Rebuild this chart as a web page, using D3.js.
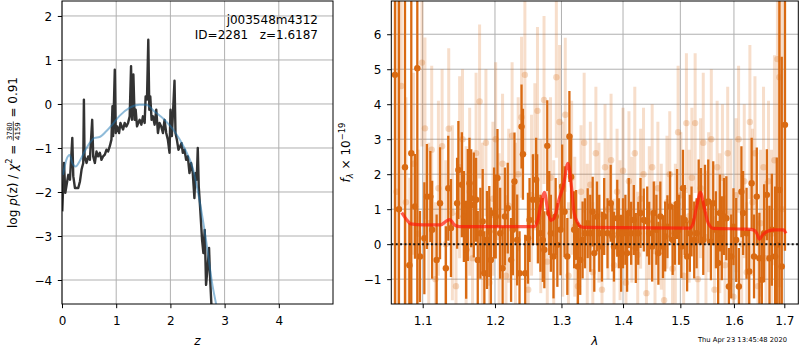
<!DOCTYPE html>
<html>
<head>
<meta charset="utf-8">
<script src="https://cdn.jsdelivr.net/npm/d3@7"></script>
<style>
  body { margin: 0; background: #fff; }
  svg text { font-family: "DejaVu Sans", sans-serif; fill: #000; }
</style>
</head>
<body>
<svg id="fig" width="800" height="350"></svg>
<script>
// ---------- data: redshift probability ----------
var pzZ = [0.005, 0.037, 0.061, 0.086, 0.116, 0.147, 0.178, 0.190, 0.208, 0.239, 0.300, 0.331, 0.361, 0.392,
  0.404, 0.416, 0.453, 0.484, 0.514, 0.557, 0.576, 0.606, 0.637, 0.667, 0.698, 0.729, 0.759, 0.790, 0.821,
  0.851, 0.882, 0.912, 0.931, 0.943, 0.974, 0.992, 1.017, 1.053, 1.078, 1.102, 1.127, 1.157, 1.188, 1.219,
  1.249, 1.274, 1.292, 1.317, 1.341, 1.359, 1.384, 1.408, 1.433, 1.464, 1.494, 1.525, 1.543, 1.568, 1.592,
  1.611, 1.629, 1.653, 1.678, 1.709, 1.739, 1.770, 1.800, 1.831, 1.862, 1.892, 1.923, 1.953, 1.984, 2.002,
  2.027, 2.076, 2.094, 2.119, 2.149, 2.180, 2.205, 2.229, 2.260, 2.290, 2.321, 2.352, 2.382, 2.413, 2.443,
  2.462, 2.486, 2.505, 2.523, 2.547, 2.584, 2.609, 2.633, 2.658, 2.688, 2.713, 2.731, 2.770];
var pzLog = [-2.44, -1.34, -2.02, -1.83, -1.61, -1.72, -1.04, -0.77, -1.64, -1.91, -1.91, -1.76, -1.49, -1.34,
  0.10, -1.19, -1.34, -1.19, -1.27, -0.36, -1.19, -1.34, -1.08, -1.19, -1.11, -1.27, -1.19, -1.15, -1.04,
  -1.08, -0.96, -0.81, -0.05, -0.73, 0.78, -0.66, -0.51, -0.66, -0.43, -0.51, -0.58, -0.43, -0.51, -0.43,
  -0.28, 0.86, -0.36, 0.67, -0.36, -0.13, -0.51, -0.43, -0.36, -0.47, -0.28, -0.43, 0.17, 0.10, 1.46,
  -0.13, 0.17, -0.36, -0.28, -0.47, -0.13, -0.66, -0.43, -0.51, -0.66, -0.36, -0.66, -0.81, -1.11, -0.13,
  -0.73, 0.53, -0.66, -0.81, -1.04, -0.96, -0.89, -1.11, -1.04, -1.27, -1.19, -1.57, -1.34, -1.57, -2.14,
  -1.57, -1.72, -1.00, -1.87, -2.33, -3.08, -3.39, -2.86, -4.11, -3.69, -3.27, -3.92, -4.90];

// smooth curve
var pzSmoothZ = [0.018, 0.080, 0.141, 0.190, 0.252, 0.325, 0.417, 0.509, 0.601, 0.693, 0.816, 0.939, 1.061,
  1.245, 1.429, 1.552, 1.706, 1.890, 2.074, 2.258, 2.411, 2.534, 2.656, 2.779, 2.853];
var pzSmoothLog = [-1.61, -1.27, -1.16, -1.34, -1.42, -1.30, -1.08, -0.89, -0.77, -0.75, -0.62, -0.45, -0.27,
  -0.09, -0.02, -0.02, -0.17, -0.36, -0.62, -1.00, -1.45, -2.17, -3.08, -4.14, -4.60];

var zTicks = [0, 1, 2, 3, 4];
var lpTicks = [-4, -3, -2, -1, 0, 1, 2];

// ---------- data: spectrum [lambda (um), flux (1e-19), err] ----------
var specDark = [
  [1.0639, 4.84, 9.0], [1.0690, 1.0, 7.0], [1.0768, 2.2, 5.6], [1.0825, -0.6, 1.2], [1.0850, 2.6, 4.8],
  [1.0898, 1.08, 1.5], [1.0929, 5.03, 9.0], [1.0964, -0.35, 1.3], [1.1022, 0.17, 1.6], [1.1056, 1.36, 1.5],
  [1.1102, 1.36, 1.3], [1.1126, 0.41, 1.4], [1.1186, -0.45, 1.3], [1.1232, 1.17, 1.6], [1.1311, -0.69, 1.2],
  [1.1344, 1.60, 1.5], [1.1381, 0.46, 1.4], [1.1465, 1.17, 1.3], [1.1483, 2.12, 1.4], [1.1531, 1.70, 1.5],
  [1.1559, 0.79, 1.3], [1.1591, -0.16, 1.4], [1.1614, 1.12, 1.6], [1.1637, 1.74, 1.3], [1.1661, 1.31, 1.4],
  [1.1698, 1.12, 1.5], [1.1731, 1.27, 1.2], [1.1754, -0.45, 1.4], [1.1791, 0.31, 1.3], [1.1824, 0.65, 1.5],
  [1.1848, -0.83, 1.2], [1.1885, 0.12, 1.4], [1.1918, 0.36, 1.3], [1.1941, -0.45, 1.5], [1.1987, 0.89, 1.3],
  [1.2011, 0.79, 1.2], [1.2036, 1.89, 1.4], [1.2075, 0.31, 1.3], [1.2111, -0.69, 1.2], [1.2145, 0.79, 1.4],
  [1.2186, 1.03, 1.3], [1.2235, -0.45, 1.2], [1.2261, 0.41, 1.3], [1.2285, 1.79, 1.4], [1.2325, 0.12, 1.3],
  [1.2360, -0.83, 1.2], [1.2390, 3.36, 1.2], [1.2411, 2.57, 1.3], [1.2445, -0.83, 1.1], [1.2486, 0.17, 1.3],
  [1.2510, 0.69, 1.2], [1.2561, 1.27, 1.3], [1.2610, 1.84, 1.2], [1.2625, 1.27, 1.3], [1.2636, 0.65, 1.2],
  [1.2675, 0.31, 1.1], [1.2711, 0.12, 1.2], [1.2735, -0.16, 1.1], [1.2780, 2.81, 1.3], [1.2810, 0.89, 1.2],
  [1.2835, 0.31, 1.1], [1.2876, -0.35, 1.2], [1.2910, 0.79, 1.1], [1.2936, -0.02, 1.2], [1.2985, 0.41, 1.3],
  [1.3011, 1.65, 1.2], [1.3049, 0.93, 1.3], [1.3092, -0.35, 1.1], [1.3125, 3.08, 1.3], [1.3151, 1.93, 1.2],
  [1.3200, 0.41, 1.1], [1.3232, 0.55, 1.0], [1.3259, -0.64, 1.1], [1.3297, -0.45, 1.0], [1.3335, 0.12, 1.1],
  [1.3373, 0.31, 1.0], [1.3417, 0.60, 1.0], [1.3459, 0.31, 1.1], [1.3498, 0.93, 1.0], [1.3524, -0.26, 1.1],
  [1.3568, 0.79, 1.0], [1.3605, 0.31, 1.1], [1.3649, -0.07, 1.0], [1.3686, 0.79, 1.1], [1.3741, 0.31, 1.0],
  [1.3794, 1.17, 1.1], [1.3822, 0.22, 1.0], [1.3848, -0.07, 1.0], [1.3903, 0.74, 1.1], [1.3929, 0.31, 1.0],
  [1.3968, -0.26, 1.1], [1.4000, 0.31, 1.0], [1.4040, 0.41, 1.0], [1.4069, -0.26, 1.1], [1.4097, 0.89, 1.0],
  [1.4138, 0.31, 0.9], [1.4183, 0.69, 1.0], [1.4217, -0.11, 1.0], [1.4259, 0.31, 0.9], [1.4298, 0.89, 1.0],
  [1.4355, 0.69, 0.9], [1.4414, 0.65, 1.0], [1.4448, 0.31, 0.9], [1.4500, -0.07, 1.0], [1.4528, 0.89, 0.9],
  [1.4574, 0.41, 1.0], [1.4609, -0.26, 0.9], [1.4643, 0.79, 1.0], [1.4690, -0.07, 0.9], [1.4729, 0.22, 1.0],
  [1.4769, 0.50, 0.9], [1.4816, 1.08, 1.0], [1.4862, 0.12, 1.0], [1.4902, 0.31, 0.9], [1.4941, 1.15, 1.0],
  [1.4976, 0.41, 1.0], [1.5019, -0.07, 0.9], [1.5048, 1.60, 1.1], [1.5080, 0.69, 1.0], [1.5123, -0.35, 1.0],
  [1.5173, 0.31, 1.1], [1.5204, 0.65, 1.0], [1.5253, 0.12, 1.1], [1.5297, 0.31, 1.0], [1.5335, 1.22, 1.2],
  [1.5377, 1.08, 1.1], [1.5420, 0.12, 1.0], [1.5452, 1.17, 1.1], [1.5513, 1.22, 1.2], [1.5563, 0.07, 1.1],
  [1.5606, 1.17, 1.2], [1.5656, 0.41, 1.1], [1.5699, -0.54, 1.2], [1.5731, 0.89, 1.1], [1.5768, 0.17, 1.2],
  [1.5810, 0.79, 1.1], [1.5855, 0.74, 1.2], [1.5903, -1.21, 1.1], [1.5948, -0.35, 1.2], [1.5991, 0.50, 1.1],
  [1.6044, 0.12, 1.2], [1.6096, -1.21, 1.1], [1.6145, 1.50, 1.3], [1.6177, 0.89, 1.2], [1.6245, 0.31, 1.3],
  [1.6297, -0.78, 1.2], [1.6345, 1.74, 1.3], [1.6392, -0.35, 1.2], [1.6446, 1.36, 1.4], [1.6498, -0.40, 1.3],
  [1.6546, -1.02, 1.3], [1.6592, 0.31, 1.4], [1.6647, 1.41, 1.3], [1.6699, -0.40, 1.5], [1.6747, 0.41, 1.6],
  [1.6813, -0.35, 2.0], [1.6847, -0.02, 2.5], [1.6900, 1.55, 6.0], [1.6948, -0.64, 6.0], [1.7014, 3.41, 3.6]
];

var specLight = [
  [1.066, 1.5, 7.0], [1.072, 4.52, 3.5], [1.078, 1.2, 3.0], [1.083, -0.6, 2.5], [1.088, 2.3, 2.6],
  [1.094, 0.3, 2.4], [1.099, 5.19, 2.4], [1.103, 3.31, 2.6], [1.108, 0.6, 2.3], [1.112, 2.7, 2.4],
  [1.117, -1.0, 2.2], [1.121, 1.6, 2.5], [1.126, 2.8, 2.2], [1.131, 0.0, 2.4], [1.135, 3.30, 2.3],
  [1.140, 0.9, 2.5], [1.145, -1.2, 2.1], [1.150, 2.2, 2.6], [1.154, 3.0, 2.0], [1.159, 0.5, 2.3],
  [1.164, 1.5, 2.4], [1.168, -0.4, 2.2], [1.173, 2.6, 2.3], [1.178, 4.08, 2.2], [1.182, 0.4, 2.5],
  [1.187, 2.9, 2.1], [1.192, -1.1, 2.4], [1.197, 1.3, 2.2], [1.201, 3.0, 2.2], [1.206, 0.2, 2.4],
  [1.211, 2.3, 2.0], [1.216, -0.9, 2.3], [1.220, 1.1, 2.2], [1.225, 3.1, 2.1], [1.230, 0.5, 2.4],
  [1.234, 2.0, 2.2], [1.239, 3.63, 2.3], [1.244, 4.84, 2.3], [1.249, -1.3, 2.1], [1.254, 1.4, 2.3],
  [1.259, 2.5, 2.1], [1.263, 3.81, 2.4], [1.268, 0.8, 2.2], [1.273, 4.12, 2.4], [1.278, -0.5, 2.0],
  [1.283, 1.9, 2.3], [1.288, 0.3, 2.1], [1.292, 4.77, 2.3], [1.297, 3.49, 2.2], [1.302, 1.0, 2.5],
  [1.306, 3.7, 2.2], [1.311, -0.9, 2.1], [1.316, 1.9, 2.2], [1.321, 0.5, 2.0], [1.326, -1.2, 2.2],
  [1.331, 1.5, 1.9], [1.336, 2.9, 2.0], [1.341, 0.2, 2.1], [1.346, 1.7, 1.8], [1.350, -0.8, 2.0],
  [1.355, 2.6, 1.9], [1.360, 0.9, 2.0], [1.365, -1.3, 1.9], [1.370, 2.2, 1.8], [1.375, 1.0, 2.0],
  [1.380, 2.4, 1.9], [1.385, -0.6, 1.9], [1.390, 1.5, 1.8], [1.395, 0.4, 2.0], [1.400, 2.1, 1.8],
  [1.405, -1.1, 1.9], [1.410, 1.8, 2.0], [1.415, 0.7, 1.8], [1.420, 2.6, 1.9], [1.425, -0.3, 1.8],
  [1.430, 1.3, 2.0], [1.435, 2.0, 1.9], [1.440, -1.4, 1.8], [1.445, 0.9, 1.9], [1.450, 2.2, 1.8],
  [1.455, -0.2, 2.0], [1.460, 1.6, 1.9], [1.466, 0.5, 1.8], [1.471, -1.6, 2.0], [1.476, 1.2, 1.9],
  [1.481, 2.0, 1.8], [1.486, -0.7, 1.9], [1.491, 0.3, 2.0], [1.496, 3.2, 1.9], [1.501, 1.4, 1.8],
  [1.506, -0.9, 2.0], [1.511, 3.46, 2.0], [1.516, 0.8, 1.9], [1.521, 1.9, 2.0], [1.527, 3.46, 2.0],
  [1.532, -1.0, 1.9], [1.537, 1.6, 2.0], [1.542, 2.9, 2.0], [1.547, 0.2, 1.9], [1.552, 1.2, 2.0],
  [1.557, 3.0, 2.0], [1.563, -1.3, 2.1], [1.568, 2.2, 1.9], [1.573, 0.6, 2.0], [1.578, 1.9, 2.1],
  [1.583, -0.6, 2.0], [1.588, 2.6, 1.9], [1.594, 0.9, 2.1], [1.599, -1.5, 2.0], [1.604, 1.4, 2.2],
  [1.609, 3.0, 2.1], [1.615, 0.0, 2.0], [1.620, 1.8, 2.2], [1.625, -0.8, 2.0], [1.631, 3.49, 2.2],
  [1.636, 1.2, 2.1], [1.641, 2.6, 2.2], [1.647, -1.2, 2.0], [1.652, 0.6, 2.1], [1.658, 2.2, 2.3],
  [1.663, -0.4, 2.2], [1.668, 1.8, 2.3], [1.674, 0.3, 2.4], [1.680, 2.4, 3.0], [1.686, 5.29, 5.0],
  [1.690, 4.77, 6.0], [1.695, 1.0, 8.0]
];

// best-fit model
var modelLam = [1.0725, 1.0790, 1.0842, 1.1009, 1.1242, 1.1311, 1.1367, 1.1428, 1.1497, 1.1800, 1.2585,
  1.2636, 1.2686, 1.2735, 1.2786, 1.2835, 1.2885, 1.2960, 1.3028, 1.3102, 1.3157, 1.3200, 1.3254, 1.3308,
  1.3362, 1.5173, 1.5234, 1.5297, 1.5372, 1.5433, 1.5513, 1.5606, 1.6245, 1.6378, 1.6446, 1.6498, 1.6566,
  1.6647, 1.6781, 1.6982, 1.7034];
var modelFlux = [0.90, 0.70, 0.58, 0.55, 0.55, 0.65, 0.70, 0.55, 0.50, 0.50, 0.50,
  0.70, 1.17, 1.48, 0.98, 0.68, 0.74, 1.27, 1.65, 2.31, 1.65, 0.89, 0.62, 0.50,
  0.48, 0.46, 0.60, 1.08, 1.48, 1.08, 0.60, 0.45, 0.43, 0.41, 0.31, 0.14, 0.27,
  0.36, 0.41, 0.41, 0.31];

var lamTicks = [1.1, 1.2, 1.3, 1.4, 1.5, 1.6, 1.7];
var fluxTicks = [-1, 0, 1, 2, 3, 4, 5, 6];

// ---------- drawing ----------
var svg = d3.select('#fig');
var fmt = d3.format('');
var gridColor = '#b0b0b0';
var specColor = '#d96a12';
var FS = 12;

function drawFrame(x, y, xt, yt, name) {
    var x0 = x.range()[0], x1 = x.range()[1];
    var y0 = y.range()[0], y1 = y.range()[1];
    var g = svg.append('g');

    // grid
    g.selectAll('.vg').data(xt).enter().append('line')
        .attr('x1', d => x(d)).attr('x2', d => x(d))
        .attr('y1', y0).attr('y2', y1)
        .attr('stroke', gridColor).attr('stroke-width', 1);
    g.selectAll('.hg').data(yt).enter().append('line')
        .attr('x1', x0).attr('x2', x1)
        .attr('y1', d => y(d)).attr('y2', d => y(d))
        .attr('stroke', gridColor).attr('stroke-width', 1);

    // clip for the marks
    svg.append('clipPath').attr('id', name)
        .append('rect').attr('x', x0).attr('y', y1).attr('width', x1 - x0).attr('height', y0 - y1);
    return svg.append('g').attr('clip-path', 'url(#' + name + ')');
}

function drawAxes(x, y, xt, yt, xfmt) {
    var x0 = x.range()[0], x1 = x.range()[1];
    var y0 = y.range()[0], y1 = y.range()[1];
    var xAxis = svg.append('g').attr('transform', 'translate(0,' + y0 + ')')
        .call(d3.axisBottom(x).tickValues(xt).tickFormat(xfmt).tickSize(4.2).tickPadding(8.5));
    var yAxis = svg.append('g').attr('transform', 'translate(' + x0 + ',0)')
        .call(d3.axisLeft(y).tickValues(yt).tickFormat(fmt).tickSize(4.2).tickPadding(5.6));
    [xAxis, yAxis].forEach(function (a) {
        a.select('.domain').remove();
        a.selectAll('text').attr('font-size', FS).attr('font-family', '"DejaVu Sans", sans-serif').attr('fill', '#000');
        a.selectAll('.tick line').attr('stroke', '#000');
    });
    yAxis.selectAll('text').attr('dy', '0.36em');
    svg.append('rect').attr('x', x0).attr('y', y1).attr('width', x1 - x0).attr('height', y0 - y1)
        .attr('fill', 'none').attr('stroke', '#000').attr('stroke-width', 1);
}

// ---- left panel: p(z) ----
var xz = d3.scaleLinear().domain([0, 5]).range([62, 333]);
var ylp = d3.scaleLinear().domain([-4.545, 2.34]).range([304, 1]);
var gl = drawFrame(xz, ylp, zTicks, lpTicks, 'clipL');

var pzLine = d3.line().x(d => xz(d[0])).y(d => ylp(d[1]));
gl.append('path')
    .datum(pzZ.map((z, i) => [z, pzLog[i]]))
    .attr('d', pzLine)
    .attr('fill', 'none').attr('stroke', '#333')
    .attr('stroke-width', 2.4).attr('stroke-linejoin', 'round');
gl.append('path')
    .datum(pzSmoothZ.map((z, i) => [z, pzSmoothLog[i]]))
    .attr('d', d3.line().curve(d3.curveMonotoneX).x(d => xz(d[0])).y(d => ylp(d[1])))
    .attr('fill', 'none').attr('stroke', '#1f77b4').attr('stroke-opacity', 0.5)
    .attr('stroke-width', 2);
drawAxes(xz, ylp, zTicks, lpTicks, fmt);

svg.append('text').attr('x', 318).attr('y', 24).attr('text-anchor', 'end')
    .attr('font-size', FS).text('j003548m4312');
svg.append('text').attr('x', 318).attr('y', 38.5).attr('text-anchor', 'end')
    .attr('font-size', FS).attr('xml:space', 'preserve').text('ID=2281   z=1.6187');

svg.append('text').attr('x', 197.5).attr('y', 345).attr('text-anchor', 'middle')
    .attr('font-size', FS).attr('font-style', 'italic').text('z');

// left y label with fraction
var lab = svg.append('g');
var t1 = lab.append('text').attr('font-size', FS).attr('xml:space', 'preserve');
t1.append('tspan').text('log ');
t1.append('tspan').attr('font-style', 'italic').text('p');
t1.append('tspan').text('(z) / ');
t1.append('tspan').attr('font-style', 'italic').text('χ');
t1.append('tspan').attr('font-size', 8.4).attr('dy', -5).text('2');
t1.append('tspan').attr('font-size', FS).attr('dy', 5).text(' = ');
var w1 = t1.node().getComputedTextLength();
var num = lab.append('text').attr('font-size', 7).attr('text-anchor', 'middle').text('3780');
var den = lab.append('text').attr('font-size', 7).attr('text-anchor', 'middle').text('4159');
var wf = Math.max(num.node().getComputedTextLength(), den.node().getComputedTextLength()) + 1.5;
num.attr('x', w1 + wf / 2).attr('y', -5);
den.attr('x', w1 + wf / 2).attr('y', 3);
lab.append('line').attr('x1', w1).attr('x2', w1 + wf).attr('y1', -3.7).attr('y2', -3.7)
    .attr('stroke', '#000').attr('stroke-width', 0.7);
var t2 = lab.append('text').attr('font-size', FS).attr('xml:space', 'preserve')
    .attr('x', w1 + wf).text(' = 0.91');
var wTot = w1 + wf + t2.node().getComputedTextLength();
lab.attr('transform', 'translate(17,' + (152.5 + wTot / 2) + ') rotate(-90)');

// ---- right panel: spectrum ----
var xl = d3.scaleLog().domain([1.0592, 1.7289]).range([391.3, 798.3]);
var yf = d3.scaleLinear().domain([-1.71, 6.95]).range([304, 1]);
var gr = drawFrame(xl, yf, lamTicks, fluxTicks, 'clipR');

// faint points, each mark transparent so overlaps build up
var gLight = gr.append('g');
gLight.selectAll('line').data(specLight).enter().append('line')
    .attr('x1', d => xl(d[0])).attr('x2', d => xl(d[0]))
    .attr('y1', d => yf(d[1] - d[2])).attr('y2', d => yf(d[1] + d[2]))
    .attr('stroke', specColor).attr('stroke-opacity', 0.22).attr('stroke-width', 3);
gLight.selectAll('circle').data(specLight).enter().append('circle')
    .attr('cx', d => xl(d[0])).attr('cy', d => yf(d[1]))
    .attr('r', 3.2).attr('fill', specColor).attr('fill-opacity', 0.25);

// solid points
var gDark = gr.append('g');
gDark.selectAll('line').data(specDark).enter().append('line')
    .attr('x1', d => xl(d[0])).attr('x2', d => xl(d[0]))
    .attr('y1', d => yf(d[1] - d[2])).attr('y2', d => yf(d[1] + d[2]))
    .attr('stroke', specColor).attr('stroke-width', 2.3);
gDark.selectAll('circle').data(specDark).enter().append('circle')
    .attr('cx', d => xl(d[0])).attr('cy', d => yf(d[1]))
    .attr('r', 3.2).attr('fill', specColor);

gr.append('path')
    .datum(modelLam.map((l, i) => [l, modelFlux[i]]))
    .attr('d', d3.line().curve(d3.curveMonotoneX).x(d => xl(d[0])).y(d => yf(d[1])))
    .attr('fill', 'none').attr('stroke', '#ff1a0a').attr('stroke-opacity', 0.7)
    .attr('stroke-width', 3.2).attr('stroke-linejoin', 'round');

gr.append('line')
    .attr('x1', 391.3).attr('x2', 798.3).attr('y1', yf(0)).attr('y2', yf(0))
    .attr('stroke', '#111').attr('stroke-width', 2).attr('stroke-dasharray', '2,2.4');

drawAxes(xl, yf, lamTicks, fluxTicks, d3.format('.1f'));

svg.append('text').attr('x', 594.8).attr('y', 345).attr('text-anchor', 'middle')
    .attr('font-size', FS).attr('font-style', 'italic').text('λ');

var ry = svg.append('text').attr('text-anchor', 'middle').attr('font-size', FS)
    .attr('transform', 'translate(350,152.5) rotate(-90)');
ry.append('tspan').attr('font-style', 'italic').text('f');
ry.append('tspan').attr('font-size', 8.4).attr('font-style', 'italic').attr('dy', 2.5).text('λ');
ry.append('tspan').attr('font-size', FS).attr('dy', -2.5).text(' × 10');
ry.append('tspan').attr('font-size', 8.4).attr('dy', -5).text('−19');

svg.append('text').attr('x', 787).attr('y', 342).attr('text-anchor', 'end')
    .attr('font-size', 6.75).text('Thu Apr 23 13:45:48 2020');
</script>
</body>
</html>
